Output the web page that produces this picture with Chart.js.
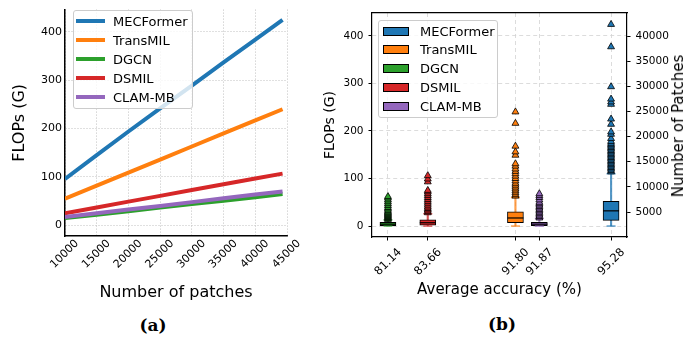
<!DOCTYPE html>
<html><head><meta charset="utf-8">
<script src="https://cdn.jsdelivr.net/npm/chart.js@4/dist/chart.umd.min.js"></script>
<style>
body{margin:0;background:#fff;}
#wrap{position:relative;width:686px;height:339px;overflow:hidden;font-family:"DejaVu Sans",sans-serif;}
canvas{position:absolute;top:0;}
#ca{left:0;} #cb{left:310px;}
.leg{position:absolute;background:rgba(255,255,255,0.8);border:1px solid #cccccc;border-radius:3px;box-sizing:border-box;}
.txt{position:absolute;font-size:13px;line-height:15px;color:#000;white-space:nowrap;}
.sw{position:absolute;box-sizing:border-box;}
.sub{position:absolute;font-family:"DejaVu Serif",serif;font-weight:bold;font-size:17px;color:#000;transform:translate(-50%,-50%);white-space:nowrap;}
#rtitle{position:absolute;font-size:15px;color:#000;white-space:nowrap;transform:translate(-50%,-50%) rotate(-90deg);}
</style></head><body>
<div id="wrap">
<canvas id="ca" width="310" height="310"></canvas>
<canvas id="cb" width="376" height="310"></canvas>
<div id="legA" class="leg"></div>
<div id="legB" class="leg"></div>
<div id="rtitle" style="left:678px;top:126px;">Number of Patches</div>
<div class="sub" style="left:153px;top:325px;">(a)</div>
<div class="sub" style="left:502px;top:324px;">(b)</div>
</div>
<script>
// ---------- Panel (a) data ----------
const patchCounts = [10000, 15000, 20000, 25000, 30000, 35000, 40000, 44300];
const lineModels = ['MECFormer', 'TransMIL', 'DGCN', 'DSMIL', 'CLAM-MB'];
const flopsMECFormer = [96, 145, 194, 242, 289, 337, 384, 425];
const flopsTransMIL = [55, 82, 109, 136, 163, 190, 217, 240];
const flopsDGCN = [15, 22, 29, 37, 44, 51, 58, 65];
const flopsDSMIL = [25, 37, 49, 61, 73, 85, 97, 107];
const flopsCLAMMB = [17, 25, 33, 40, 48, 56, 64, 70];
const yTicksA = [0, 100, 200, 300, 400];

// ---------- Panel (b) data ----------
const accLabels = ['81.14', '83.66', '91.80', '91.87', '95.28'];
const accPositions = [1, 3.5, 9, 10.5, 15];
const boxModels = ['DGCN', 'DSMIL', 'TransMIL', 'CLAM-MB', 'MECFormer'];
const whiskerLow = [0, 0, 0, 0, 0];
const q1Values = [1, 2, 7, 1, 12];
const medianValues = [4, 7, 17, 4, 32];
const q3Values = [8, 13, 30, 8, 52];
const whiskerHigh = [13, 26, 60, 16, 110];
const outliersDGCN = [14, 16, 18, 20, 22, 24, 26, 28, 30, 33, 36, 39, 43, 47, 51, 55, 59, 62];
const outliersDSMIL = [28, 31, 34, 37, 40, 44, 48, 52, 56, 60, 64, 68, 72, 75, 93, 99, 106];
const outliersTransMIL = [63, 66, 70, 74, 78, 82, 86, 90, 95, 100, 105, 110, 115, 120, 126, 131, 149, 156, 168, 216, 240];
const outliersCLAMMB = [17, 20, 23, 26, 29, 32, 35, 38, 41, 44, 47, 50, 55, 60, 64, 68];
const outliersMECFormer = [114, 117, 120, 123, 126, 129, 132, 135, 138, 141, 144, 147, 150, 153, 156, 159, 162, 165, 168, 171, 174, 178, 184, 193, 198, 214, 225, 256, 261, 267, 293, 377, 424];
const yTicksB = [0, 100, 200, 300, 400];
const patchTicksB = [5000, 10000, 15000, 20000, 25000, 30000, 35000, 40000];
const legendOrderB = ['MECFormer', 'TransMIL', 'DGCN', 'DSMIL', 'CLAM-MB'];

// ---------- styles ----------
const COLORS = {'MECFormer':'#1f77b4','TransMIL':'#ff7f0e','DGCN':'#2ca02c','DSMIL':'#d62728','CLAM-MB':'#9467bd'};
const WCOLORS = {'MECFormer':'rgba(31,119,180,0.75)','TransMIL':'rgba(255,127,14,0.75)','DGCN':'rgba(44,160,44,0.75)','DSMIL':'rgba(214,39,40,0.75)','CLAM-MB':'rgba(148,103,189,0.75)'};
Chart.defaults.font.family = '"DejaVu Sans", sans-serif';
Chart.defaults.color = '#000';
const plain = v => String(v);

// ---------- Chart (a) ----------
const seriesA = {'MECFormer': flopsMECFormer, 'TransMIL': flopsTransMIL, 'DGCN': flopsDGCN, 'DSMIL': flopsDSMIL, 'CLAM-MB': flopsCLAMMB};
const dsA = lineModels.map((m, i) => ({
  label: m,
  data: patchCounts.map((p, j) => ({x: p, y: seriesA[m][j]})),
  borderColor: COLORS[m], backgroundColor: COLORS[m],
  borderWidth: 4, pointRadius: 0, tension: 0, fill: false,
  order: lineModels.length - i
}));
new Chart(document.getElementById('ca'), {
  type: 'line',
  data: {datasets: dsA},
  options: {
    responsive: false, animation: false, devicePixelRatio: 1, events: [],
    layout: {padding: {left: 0, top: 4, right: 23, bottom: 0}},
    plugins: {legend: {display: false}, tooltip: {enabled: false}},
    scales: {
      x: {
        type: 'linear', min: 10000, max: 45000,
        ticks: {stepSize: 5000, autoSkip: false, minRotation: 45, maxRotation: 45, font: {size: 11}, labelOffset: 12, padding: 1, color: '#000', callback: plain},
        grid: {color: '#b0b0b0', lineWidth: 0.8, drawTicks: false},
        border: {display: true, color: '#000', width: 1.5, dash: [1, 2]},
        title: {display: true, text: 'Number of patches', font: {size: 16}, color: '#000', padding: {top: 0, bottom: 8}},
        afterFit: s => { s.height = 74; }
      },
      y: {
        type: 'linear', min: -22, max: 446,
        afterBuildTicks: s => { s.ticks = yTicksA.map(v => ({value: v})); },
        ticks: {font: {size: 11}, padding: 3, color: '#000', callback: plain},
        grid: {color: '#b0b0b0', lineWidth: 0.8, drawTicks: false},
        border: {display: true, color: '#000', width: 1.5, dash: [1, 2]},
        title: {display: true, text: 'FLOPs (G)', font: {size: 16}, color: '#000', padding: {top: 10, bottom: 0}},
        afterFit: s => { s.width = 65; }
      }
    }
  }
});

// ---------- Chart (b) ----------
const outB = {'DGCN': outliersDGCN, 'DSMIL': outliersDSMIL, 'TransMIL': outliersTransMIL, 'CLAM-MB': outliersCLAMMB, 'MECFormer': outliersMECFormer};
const dsB = [];
boxModels.forEach((m, i) => {
  dsB.push({
    type: 'scatter', label: m + ' outliers',
    data: outB[m].map(v => ({x: accPositions[i], y: v})),
    pointStyle: 'triangle', pointRadius: 4, pointBackgroundColor: COLORS[m],
    pointBorderColor: '#000', pointBorderWidth: 0.8, showLine: false, order: 0
  });
});
dsB.push({
  type: 'scatter', label: 'medians',
  data: boxModels.map((m, i) => ({x: accPositions[i], y: medianValues[i]})),
  pointStyle: 'line', pointRadius: 8, pointBorderColor: '#000', pointBorderWidth: 1.2, showLine: false, order: 1
});
dsB.push({
  type: 'scatter', label: 'caps',
  data: boxModels.flatMap((m, i) => [{x: accPositions[i], y: whiskerLow[i]}, {x: accPositions[i], y: whiskerHigh[i]}]),
  pointStyle: 'line', pointRadius: 4.5,
  pointBorderColor: boxModels.flatMap(m => [WCOLORS[m], WCOLORS[m]]),
  pointBorderWidth: 1.5, showLine: false, order: 2
});
dsB.push({
  type: 'bar', label: 'boxes',
  data: boxModels.map((m, i) => ({x: accPositions[i], y: [q1Values[i], q3Values[i]]})),
  backgroundColor: boxModels.map(m => COLORS[m]), borderColor: '#000', borderWidth: 1,
  borderSkipped: false, barThickness: 16, grouped: false, order: 3
});
dsB.push({
  type: 'bar', label: 'whiskers',
  data: boxModels.map((m, i) => ({x: accPositions[i], y: [whiskerLow[i], whiskerHigh[i]]})),
  backgroundColor: boxModels.map(m => WCOLORS[m]), borderWidth: 0,
  borderSkipped: false, barThickness: 1.5, grouped: false, order: 4
});
new Chart(document.getElementById('cb'), {
  type: 'scatter',
  data: {datasets: dsB},
  options: {
    responsive: false, animation: false, devicePixelRatio: 1, events: [],
    layout: {padding: {left: 0, top: 13, right: 0, bottom: 0}},
    plugins: {legend: {display: false}, tooltip: {enabled: false}},
    scales: {
      x: {
        type: 'linear', position: 'bottom', min: 0, max: 16, offset: false,
        afterBuildTicks: s => { s.ticks = accPositions.map(v => ({value: v})); },
        ticks: {callback: (v, idx) => accLabels[idx], autoSkip: false, minRotation: 45, maxRotation: 45, font: {size: 11.5}, labelOffset: 12, padding: 5, color: '#000'},
        grid: {offset: false, color: '#d3d3d3', lineWidth: 0.8, tickColor: '#000', tickLength: 3.5, tickWidth: 1},
        border: {display: true, color: '#000', width: 1.2, dash: [4, 3]},
        title: {display: true, text: 'Average accuracy (%)', font: {size: 15}, color: '#000', padding: {top: 0, bottom: 11}},
        afterFit: s => { s.height = 73; }
      },
      xTop: {
        type: 'linear', position: 'top', min: 0, max: 16, offset: false,
        ticks: {display: false}, grid: {display: false, drawTicks: false, offset: false},
        border: {display: true, color: '#000', width: 1.2},
        afterFit: s => { s.height = 0; }
      },
      y: {
        type: 'linear', position: 'left', min: -23, max: 448,
        afterBuildTicks: s => { s.ticks = yTicksB.map(v => ({value: v})); },
        ticks: {font: {size: 10.5}, padding: 5, color: '#000', callback: plain},
        grid: {color: '#d3d3d3', lineWidth: 0.8, tickColor: '#000', tickLength: 3.5, tickWidth: 1},
        border: {display: true, color: '#000', width: 1.2, dash: [4, 3]},
        title: {display: true, text: 'FLOPs (G)', font: {size: 14}, color: '#000', padding: {top: 11.6, bottom: 0}},
        afterFit: s => { s.width = 62; }
      },
      y2: {
        type: 'linear', position: 'right', min: 30, max: 44580,
        afterBuildTicks: s => { s.ticks = patchTicksB.map(v => ({value: v})); },
        ticks: {font: {size: 10.5}, padding: 5, color: '#000', callback: plain},
        grid: {drawOnChartArea: false, color: '#000', tickColor: '#000', tickLength: 3.5, tickWidth: 1},
        border: {display: true, color: '#000', width: 1.2},
        afterFit: s => { s.width = 59; }
      }
    }
  }
});

// ---------- HTML legends ----------
function buildLegend(el, box, items, kind) {
  el.style.left = box.x + 'px'; el.style.top = box.y + 'px';
  el.style.width = box.w + 'px'; el.style.height = box.h + 'px';
  const wrap = document.getElementById('wrap');
  items.forEach((m, i) => {
    const cy = box.first + i * box.step;
    const sw = document.createElement('div');
    sw.className = 'sw';
    if (kind === 'line') {
      Object.assign(sw.style, {left: box.sx + 'px', top: (cy - 2) + 'px', width: box.sw + 'px', height: '4px', background: COLORS[m]});
    } else {
      Object.assign(sw.style, {left: box.sx + 'px', top: (cy - 4.5) + 'px', width: box.sw + 'px', height: '9px', background: COLORS[m], border: '1px solid #000'});
    }
    wrap.appendChild(sw);
    const t = document.createElement('div');
    t.className = 'txt'; t.textContent = m;
    t.style.left = box.tx + 'px'; t.style.top = (cy - 7.5) + 'px';
    wrap.appendChild(t);
  });
}
buildLegend(document.getElementById('legA'), {x: 73, y: 10, w: 120, h: 99, first: 21, step: 19, sx: 76, sw: 29, tx: 113}, lineModels, 'line');
buildLegend(document.getElementById('legB'), {x: 378, y: 20, w: 120, h: 98, first: 31, step: 18.75, sx: 383, sw: 26, tx: 420}, legendOrderB, 'patch');
</script>
</body></html>
